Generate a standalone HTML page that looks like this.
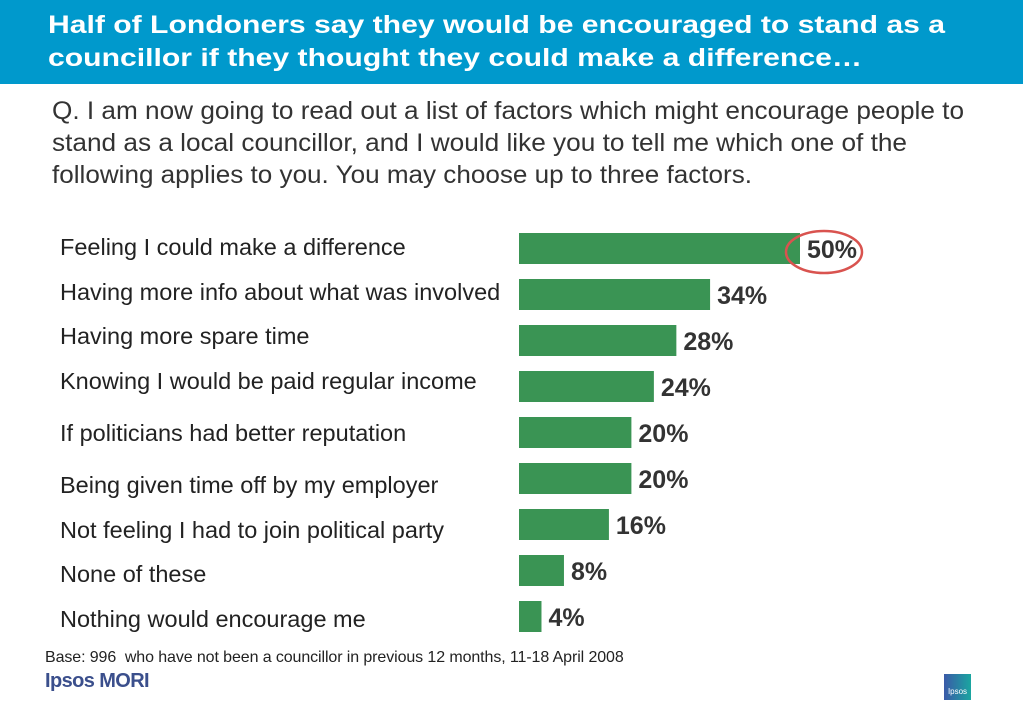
<!DOCTYPE html>
<html><head><meta charset="utf-8"><style>
body{margin:0;width:1023px;height:708px;overflow:hidden;background:#fff;font-family:"Liberation Sans",sans-serif;position:relative}
#hdr{position:absolute;left:0;top:0;width:1023px;height:84px;background:#0099cc}
#base{position:absolute;left:45px;top:649px;font-size:16px;color:#222;letter-spacing:-0.1px}
#logo{position:absolute;left:45px;top:670px;font-size:20px;color:#3b4f8c;font-weight:bold;letter-spacing:-0.6px}
#ip{position:absolute;left:944px;top:674px;width:27px;height:26px;background:linear-gradient(90deg,#3b5aa8,#1aa6a0);color:#fff;font-size:8px;text-align:center;line-height:36px}
</style></head><body>
<div id="hdr"></div>
<svg width="1023" height="200" style="position:absolute;left:0;top:0">
<g font-family="Liberation Sans, sans-serif" font-weight="bold" font-size="25" fill="#fff">
<text x="48" y="33" textLength="897" lengthAdjust="spacingAndGlyphs">Half of Londoners say they would be encouraged to stand as a</text>
<text x="48" y="66" textLength="814" lengthAdjust="spacingAndGlyphs">councillor if they thought they could make a difference…</text>
</g>
<g font-family="Liberation Sans, sans-serif" font-size="25" fill="#333">
<text x="52" y="119" textLength="912" lengthAdjust="spacingAndGlyphs">Q. I am now going to read out a list of factors which might encourage people to</text>
<text x="52" y="151" textLength="855" lengthAdjust="spacingAndGlyphs">stand as a local councillor, and I would like you to tell me which one of the</text>
<text x="52" y="183" textLength="700" lengthAdjust="spacingAndGlyphs">following applies to you. You may choose up to three factors.</text>
</g>
</svg>
<svg id="chart" width="1023" height="708" style="position:absolute;left:0;top:0"></svg>
<div id="base">Base: 996&nbsp; who have not been a councillor in previous 12 months, 11-18 April 2008</div>
<div id="logo">Ipsos MORI</div>
<div id="ip">Ipsos</div>
<script>
const categories=["Feeling I could make a difference","Having more info about what was involved","Having more spare time","Knowing I would be paid regular income","If politicians had better reputation","Being given time off by my employer","Not feeling I had to join political party","None of these","Nothing would encourage me"];
const values=[50,34,28,24,20,20,16,8,4];
const labelY=[247,292,336,381,433,485,530,574,619];
const NS="http://www.w3.org/2000/svg";
const svg=document.getElementById('chart');
const x=v=>v*5.62;
const y=i=>233+i*46.0;
function mk(t,a){const e=document.createElementNS(NS,t);for(const k in a)e.setAttribute(k,a[k]);svg.appendChild(e);return e;}
categories.forEach((c,i)=>{
 const t=mk('text',{x:60,y:labelY[i]+8,'font-size':23.5,fill:'#222','font-family':'Liberation Sans, sans-serif'});
 t.textContent=c;
 
 
 const r=mk('rect',{x:519,y:y(i),width:x(values[i]),height:31,fill:'#3a9454'});
 
 
 const v=mk('text',{x:519+x(values[i])+7,y:y(i)+25,'font-size':25,'font-weight':'bold',fill:'#333','font-family':'Liberation Sans, sans-serif'});
 v.textContent=values[i]+'%';
 
 
});
const e=mk('ellipse',{cx:519+x(values[0])+24,cy:252,rx:38,ry:21,fill:'none',stroke:'#d9534f','stroke-width':2.5});


</script>
</body></html>
